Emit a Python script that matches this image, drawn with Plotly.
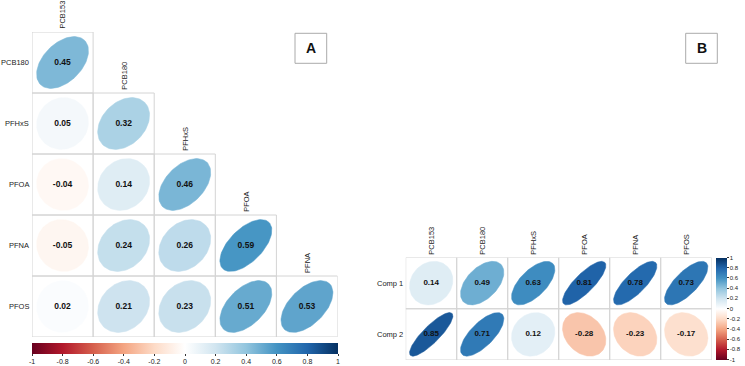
import numpy as np
import plotly.graph_objects as go

# ---------------- data ----------------
A_rows = ["PCB180", "PFHxS", "PFOA", "PFNA", "PFOS"]
A_cols = ["PCB153", "PCB180", "PFHxS", "PFOA", "PFNA"]
A_vals = [
    [0.45],
    [0.05, 0.32],
    [-0.04, 0.14, 0.46],
    [-0.05, 0.24, 0.26, 0.59],
    [0.02, 0.21, 0.23, 0.51, 0.53],
]

B_rows = ["Comp 1", "Comp 2"]
B_cols = ["PCB153", "PCB180", "PFHxS", "PFOA", "PFNA", "PFOS"]
B_vals = [
    [0.14, 0.49, 0.63, 0.81, 0.78, 0.73],
    [0.85, 0.71, 0.12, -0.28, -0.23, -0.17],
]

cbar_ticks = [-1, -0.8, -0.6, -0.4, -0.2, 0, 0.2, 0.4, 0.6, 0.8, 1]
cbar_ticktext = ["-1", "-0.8", "-0.6", "-0.4", "-0.2", "0", "0.2", "0.4", "0.6", "0.8", "1"]

# ---------------- style ----------------
PAL = ["#67001F", "#B2182B", "#D6604D", "#F4A582", "#FDDBC7", "#FFFFFF",
       "#D1E5F0", "#92C5DE", "#4393C3", "#2166AC", "#053061"]
FONT = "Liberation Sans, Arial, sans-serif"
W, H = 745, 366
GRID = "#d4d4d4"

def hex2rgb(h):
    h = h.lstrip("#")
    return np.array([int(h[i:i + 2], 16) for i in (0, 2, 4)], dtype=float)

PAL_RGB = [hex2rgb(c) for c in PAL]
colorscale = [[i / (len(PAL) - 1), c] for i, c in enumerate(PAL)]

def val2color(v):
    t = (v + 1) / 2 * (len(PAL) - 1)
    i = min(int(np.floor(t)), len(PAL) - 2)
    f = t - i
    c = PAL_RGB[i] * (1 - f) + PAL_RGB[i + 1] * f
    return "rgb(%d,%d,%d)" % tuple(np.round(c).astype(int))

def ellipse(rho, cx, cy, n=99, scale=0.85):
    k = np.linspace(0, 2 * np.pi, n)
    d = np.arccos(rho)
    x = np.cos(k + d / 2) / 2 * scale + cx
    y = np.cos(k - d / 2) / 2 * scale + cy
    return x, y

fig = go.Figure()

def px_x(p):
    return p / W

def px_y(p):
    return (H - p) / H

panels = {
    "A": dict(rows=A_rows, cols=A_cols, vals=A_vals, lower=True,
              xd=[px_x(32), px_x(337.5)], yd=[px_y(337), px_y(32)],
              xa="x", ya="y", lab_size=7.5, val_size=8.5),
    "B": dict(rows=B_rows, cols=B_cols, vals=B_vals, lower=False,
              xd=[px_x(405.7), px_x(711.7)], yd=[px_y(360), px_y(257.5)],
              xa="x2", ya="y2", lab_size=7.5, val_size=8),
}

annotations = []
for key, P in panels.items():
    nr, nc = len(P["rows"]), len(P["cols"])
    xa, ya = P["xa"], P["ya"]
    gx, gy = [], []
    tx, ty, tt, tv = [], [], [], []
    for i, row in enumerate(P["vals"]):
        cy = nr - i
        for j, v in enumerate(row):
            cx = j + 1
            # cell border
            gx += [cx - 0.5, cx + 0.5, cx + 0.5, cx - 0.5, cx - 0.5, None]
            gy += [cy - 0.5, cy - 0.5, cy + 0.5, cy + 0.5, cy - 0.5, None]
            ex, ey = ellipse(v, cx, cy)
            col = val2color(v)
            fig.add_trace(go.Scatter(x=ex, y=ey, mode="lines", fill="toself",
                                     fillcolor=col, line=dict(color=col, width=0.5),
                                     xaxis=xa, yaxis=ya, hoverinfo="skip",
                                     showlegend=False))
            tx.append(cx); ty.append(cy); tt.append("<b>%.2f</b>" % v); tv.append(v)
    fig.add_trace(go.Scatter(x=gx, y=gy, mode="lines", line=dict(color=GRID, width=1),
                             xaxis=xa, yaxis=ya, hoverinfo="skip", showlegend=False))
    fig.add_trace(go.Scatter(x=tx, y=ty, mode="markers+text", text=tt,
                             textfont=dict(family=FONT, size=P["val_size"], color="#111"),
                             marker=dict(size=1, opacity=0, color=tv,
                                         coloraxis="coloraxis" if key == "A" else "coloraxis2"),
                             xaxis=xa, yaxis=ya, hoverinfo="skip", showlegend=False))
    # row labels
    for i, r in enumerate(P["rows"]):
        annotations.append(dict(x=0.5, y=nr - i, xref=xa, yref=ya, text=r,
                                showarrow=False, xanchor="right", yanchor="middle",
                                xshift=-2, borderpad=0,
                                font=dict(family=FONT, size=P["lab_size"], color="#222")))
    # column labels
    for j, c in enumerate(P["cols"]):
        top_row = j if P["lower"] else 0
        annotations.append(dict(x=j + 1, y=nr - top_row + 0.5, xref=xa, yref=ya, text=c,
                                showarrow=False, textangle=-90, xanchor="center",
                                yanchor="bottom", yshift=2, borderpad=0,
                                font=dict(family=FONT, size=P["lab_size"], color="#222")))
    fig.layout[("xaxis" if xa == "x" else "xaxis2")] = dict(
        domain=P["xd"], range=[0.5, nc + 0.5], visible=False, fixedrange=True)
    fig.layout[("yaxis" if ya == "y" else "yaxis2")] = dict(
        domain=P["yd"], range=[0.5, nr + 0.5], visible=False, fixedrange=True,
        anchor=xa)
fig.layout.xaxis2.anchor = "y2"

# panel letters
shapes = []
for letter, (x0, x1) in {"A": (295, 326.7), "B": (685.7, 717.3)}.items():
    shapes.append(dict(type="rect", xref="paper", yref="paper",
                       x0=px_x(x0), x1=px_x(x1), y0=px_y(63.3), y1=px_y(33.3),
                       line=dict(color="#aaa", width=1)))
    annotations.append(dict(x=px_x((x0 + x1) / 2), y=px_y(48.3), xref="paper", yref="paper",
                            text="<b>%s</b>" % letter, showarrow=False,
                            xanchor="center", yanchor="middle",
                            font=dict(family=FONT, size=14, color="#111")))

fig.update_layout(
    width=W, height=H, margin=dict(l=0, r=0, t=0, b=0),
    paper_bgcolor="white", plot_bgcolor="white",
    annotations=annotations, shapes=shapes,
    coloraxis=dict(cmin=-1, cmax=1, colorscale=colorscale,
                   colorbar=dict(orientation="h", x=px_x(185), xanchor="center",
                                 y=px_y(342.7), yanchor="top", len=306, lenmode="pixels",
                                 thickness=10.5, xpad=0, ypad=0, outlinewidth=0,
                                 tickvals=cbar_ticks, ticktext=cbar_ticktext,
                                 ticks="outside", ticklen=2, tickcolor="#333",
                                 tickfont=dict(family=FONT, size=7, color="#222"))),
    coloraxis2=dict(cmin=-1, cmax=1, colorscale=colorscale,
                    colorbar=dict(orientation="v", x=px_x(716), xanchor="left",
                                  y=px_y(308.5), yanchor="middle", len=101.6, lenmode="pixels",
                                  thickness=11, xpad=0, ypad=0, outlinewidth=0,
                                  tickvals=cbar_ticks, ticktext=cbar_ticktext,
                                  ticks="outside", ticklen=2, tickcolor="#333",
                                  tickfont=dict(family=FONT, size=6, color="#222"))),
    showlegend=False,
)

fig.write_html("out.html")
